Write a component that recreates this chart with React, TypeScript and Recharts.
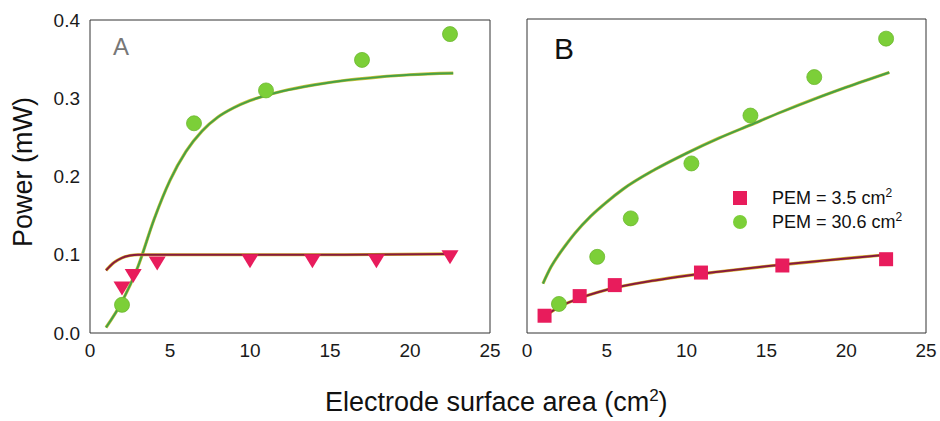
import React from "react";
import { ComposedChart, Line, Scatter, XAxis, YAxis } from "recharts";

// panel A: measured points
const aCircleX = [2.0, 6.5, 11.0, 17.0, 22.5];
const aCircleY = [0.036, 0.268, 0.31, 0.349, 0.382];
const aTriangleX = [2.0, 2.7, 4.2, 10.0, 13.9, 17.9, 22.5];
const aTriangleY = [0.058, 0.074, 0.09, 0.093, 0.093, 0.093, 0.098];

// panel A: fitted curves
const aGreenFitX = [1, 2, 3, 4, 5, 6, 7, 8, 9, 10, 12, 14, 16, 18, 20, 22.7];
const aGreenFitY = [0.007, 0.04, 0.085, 0.145, 0.195, 0.232, 0.258, 0.276, 0.288, 0.297, 0.309, 0.317, 0.323, 0.327, 0.33, 0.332];
const aRedFitX = [1, 1.5, 2, 2.5, 3, 5, 10, 15, 22.7];
const aRedFitY = [0.08, 0.09, 0.096, 0.099, 0.1, 0.1, 0.1, 0.1, 0.101];

// panel B: measured points
const bCircleX = [2.0, 4.4, 6.5, 10.3, 14.0, 18.0, 22.5];
const bCircleY = [0.037, 0.097, 0.146, 0.216, 0.277, 0.326, 0.375];
const bSquareX = [1.1, 3.3, 5.5, 10.9, 16.0, 22.5];
const bSquareY = [0.022, 0.047, 0.061, 0.077, 0.086, 0.094];

// panel B: fitted curves
const bGreenFitX = [1, 1.5, 2, 2.5, 3, 4, 5, 6, 8, 10, 12, 14, 16, 18, 20, 22.7];
const bGreenFitY = [0.063, 0.084, 0.1, 0.114, 0.127, 0.149, 0.167, 0.183, 0.208, 0.229, 0.248, 0.265, 0.282, 0.298, 0.313, 0.332];
const bRedFitX = [1, 2, 3, 5, 8, 10, 12, 15, 18, 20, 22.7];
const bRedFitY = [0.02, 0.033, 0.042, 0.055, 0.067, 0.073, 0.078, 0.085, 0.091, 0.095, 0.1];

const xTicks = [0, 5, 10, 15, 20, 25];
const innerXTicks = [5, 10, 15, 20];
const yTicks = [0, 0.1, 0.2, 0.3, 0.4];
const yMinorTicks = [0.02, 0.04, 0.06, 0.08, 0.1, 0.12, 0.14, 0.16, 0.18, 0.2, 0.22, 0.24, 0.26, 0.28, 0.3, 0.32, 0.34, 0.36, 0.38];
const legendItems = [
  { label: "PEM = 3.5", shape: "square" },
  { label: "PEM = 30.6", shape: "circle" },
];

const zip = (xs: number[], ys: number[]) => xs.map((x, i) => ({ x, y: ys[i] }));

const FONT = "'Liberation Sans', Arial, sans-serif";
const GREEN = "#7ccf38";
const RED = "#e81c5c";
const GREEN_LINE = "#47a045";
const RED_LINE = "#861a3e";
const AXIS = "#333";

const CircleDot = (props: any) => <circle cx={props.cx} cy={props.cy} r={7.5} fill={GREEN} stroke="#6cb82e" strokeWidth={0.8} />;
const SquareDot = (props: any) => <rect x={props.cx - 7} y={props.cy - 7} width={14} height={14} fill={RED} />;
const TriangleDot = (props: any) => {
  const { cx, cy } = props;
  return <polygon points={`${cx - 8.5},${cy - 6} ${cx + 8.5},${cy - 6} ${cx},${cy + 8}`} fill={RED} />;
};

const tickStyle = { fill: "#1a1a1a", fontSize: 19, fontFamily: FONT };

// frame: mirrored axes draw the box with inward ticks, plain axes carry the labels
function panelAxes(withYLabels: boolean) {
  const axes = [
    <XAxis key="b" xAxisId="b" dataKey="x" type="number" domain={[0, 25]} ticks={xTicks} mirror tick={false} tickSize={6} stroke={AXIS} allowDataOverflow />,
    <XAxis
      key="bl"
      xAxisId="bl"
      dataKey="x"
      type="number"
      domain={[0, 25]}
      ticks={xTicks}
      height={30}
      axisLine={false}
      tickLine={false}
      tickSize={6}
      tickMargin={5}
      tick={tickStyle}
      allowDataOverflow
    />,
    <XAxis key="t" xAxisId="t" dataKey="x" orientation="top" type="number" domain={[0, 25]} ticks={innerXTicks} mirror tick={false} tickSize={5} stroke={AXIS} allowDataOverflow />,
    <YAxis
      key="l"
      yAxisId="l"
      type="number"
      domain={[0, 0.4]}
      ticks={withYLabels ? yTicks : yMinorTicks}
      mirror
      tick={false}
      tickSize={withYLabels ? 6 : 4}
      stroke={AXIS}
      allowDataOverflow
    />,
    <YAxis key="r" yAxisId="r" orientation="right" type="number" domain={[0, 0.4]} ticks={[0.1, 0.2, 0.3]} mirror tick={false} tickSize={6} stroke={AXIS} allowDataOverflow />,
  ];
  if (withYLabels) {
    axes.push(
      <YAxis
        key="ll"
        yAxisId="ll"
        type="number"
        domain={[0, 0.4]}
        ticks={yTicks}
        width={60}
        axisLine={false}
        tickLine={false}
        tickSize={6}
        tickMargin={4}
        tick={tickStyle}
        tickFormatter={(v: number) => v.toFixed(1)}
        allowDataOverflow
      />
    );
  }
  return axes;
}

function fitLine(key: string, data: { x: number; y: number }[], color: string, under: string, ids: string[][]) {
  return [
    <Line key={key + "u"} xAxisId={ids[0][0]} yAxisId={ids[0][1]} data={data} dataKey="y" type="monotone" stroke={under} strokeWidth={3.2} dot={false} activeDot={false} isAnimationActive={false} />,
    <Line key={key} xAxisId={ids[1][0]} yAxisId={ids[1][1]} data={data} dataKey="y" type="monotone" stroke={color} strokeWidth={2} dot={false} activeDot={false} isAnimationActive={false} />,
  ];
}

function LegendBox() {
  return (
    <div style={{ position: "absolute", left: 733, top: 186, fontFamily: FONT, fontSize: 18, color: "#111", lineHeight: "24px" }}>
      {legendItems.map((item) => (
        <div key={item.label} style={{ display: "flex", alignItems: "center" }}>
          <span
            style={{
              display: "inline-block",
              width: 14,
              height: 14,
              background: item.shape === "square" ? RED : GREEN,
              borderRadius: item.shape === "square" ? 0 : 7,
              marginRight: 25,
            }}
          />
          <span>
            {item.label} cm<sup style={{ fontSize: 12, lineHeight: 0 }}>2</sup>
          </span>
        </div>
      ))}
    </div>
  );
}

export default function App() {
  const idsA = [
    ["bl", "ll"],
    ["t", "r"],
  ];
  const idsB = [
    ["b", "l"],
    ["t", "r"],
  ];
  return (
    <div style={{ position: "absolute", left: 0, top: 0, width: 940, height: 421, background: "#fff", overflow: "hidden", fontFamily: FONT }}>
      <div style={{ position: "absolute", left: 0, top: 0 }}>
        <ComposedChart width={510} height={421} margin={{ top: 20, right: 20, left: 30, bottom: 58 }}>
          {panelAxes(true)}
          {fitLine("ag", zip(aGreenFitX, aGreenFitY), GREEN_LINE, "#c9c23a", idsA)}
          {fitLine("ar", zip(aRedFitX, aRedFitY), RED_LINE, "#d8b22c", idsA)}
          <Scatter xAxisId="b" yAxisId="l" data={zip(aCircleX, aCircleY)} dataKey="y" shape={CircleDot} isAnimationActive={false} />
          <Scatter xAxisId="b" yAxisId="l" data={zip(aTriangleX, aTriangleY)} dataKey="y" shape={TriangleDot} isAnimationActive={false} />
        </ComposedChart>
      </div>
      <div style={{ position: "absolute", left: 497, top: 0 }}>
        <ComposedChart width={447} height={421} margin={{ top: 19, right: 18, left: 30, bottom: 58 }}>
          {panelAxes(false)}
          {fitLine("bg", zip(bGreenFitX, bGreenFitY), GREEN_LINE, "#c9c23a", idsB)}
          {fitLine("br", zip(bRedFitX, bRedFitY), RED_LINE, "#d8b22c", idsB)}
          <Scatter xAxisId="b" yAxisId="l" data={zip(bCircleX, bCircleY)} dataKey="y" shape={CircleDot} isAnimationActive={false} />
          <Scatter xAxisId="bl" yAxisId="l" data={zip(bSquareX, bSquareY)} dataKey="y" shape={SquareDot} isAnimationActive={false} />
        </ComposedChart>
      </div>
      <LegendBox />
      <div style={{ position: "absolute", left: 113, top: 33, fontSize: 24, color: "#777" }}>A</div>
      <div style={{ position: "absolute", left: 554, top: 32, fontSize: 30, color: "#111" }}>B</div>
      <div
        style={{
          position: "absolute",
          left: 23,
          top: 172,
          fontSize: 27,
          color: "#111",
          whiteSpace: "nowrap",
          transform: "translate(-50%, -50%) rotate(-90deg)",
        }}
      >
        Power (mW)
      </div>
      <div style={{ position: "absolute", left: 325, top: 387, fontSize: 27, color: "#111", whiteSpace: "nowrap" }}>
        Electrode surface area (cm<sup style={{ fontSize: 17, lineHeight: 0 }}>2</sup>)
      </div>
    </div>
  );
}
